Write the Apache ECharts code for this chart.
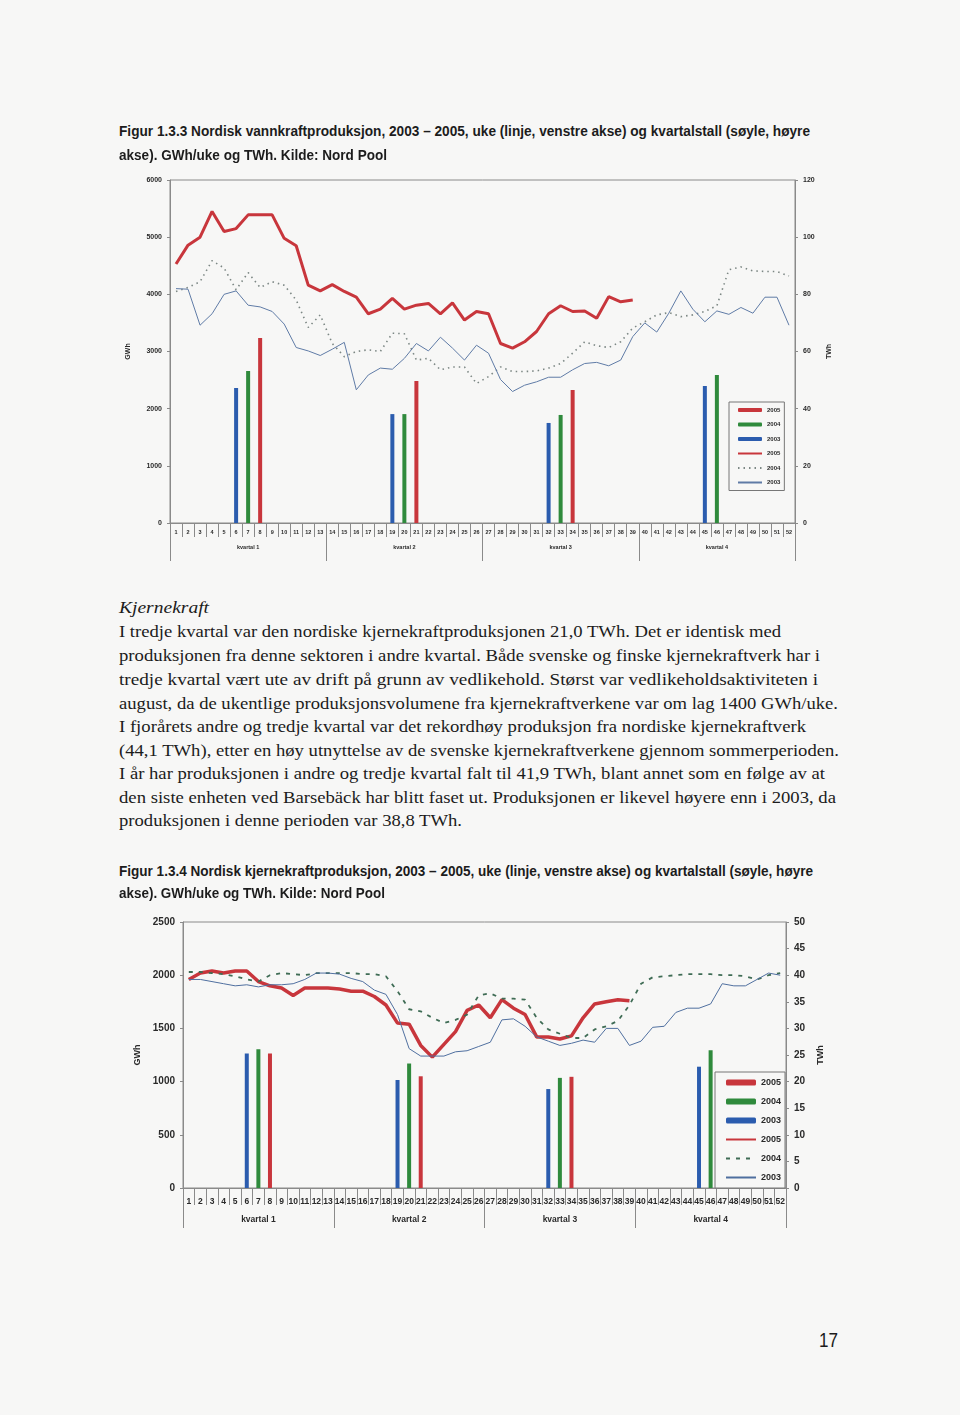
<!DOCTYPE html>
<html><head><meta charset="utf-8">
<script src="https://cdn.jsdelivr.net/npm/echarts@6/dist/echarts.min.js"></script>
<style>
html,body{margin:0;padding:0;background:#f7f7f6;}
#page{position:relative;width:960px;height:1415px;overflow:hidden;background:#f7f7f6;}
.t{position:absolute;white-space:nowrap;transform-origin:0 50%;color:#1c1c1c;}
.cap{font-family:"Liberation Sans",Arial,sans-serif;font-weight:bold;font-size:14px;line-height:18px;}
.body{font-family:"Liberation Serif","Times New Roman",serif;font-size:17.5px;line-height:22px;}
.it{font-style:italic;}
.pg{font-family:"Liberation Sans",Arial,sans-serif;font-size:20px;line-height:24px;}
#c1{position:absolute;left:0;top:160px;width:960px;height:430px;}
#c2{position:absolute;left:0;top:900px;width:960px;height:350px;}
</style></head>
<body><div id="page"><div id="c1"></div><div id="c2"></div></div>
<script>
// ---------- DATA ----------
const weekLabels = ["1","2","3","4","5","6","7","8","9","10","11","12","13","14","15","16","17","18","19","20","21","22","23","24","25","26","27","28","29","30","31","32","33","34","35","36","37","38","39","40","41","42","43","44","45","46","47","48","49","50","51","52"];
const quarterLabels = ["kvartal 1","kvartal 2","kvartal 3","kvartal 4"];

// Figur 1.3.3 – vannkraft, GWh/uke
const hydro2005 = [4530,4860,5000,5450,5100,5150,5390,5390,5390,4980,4850,4160,4060,4170,4050,3950,3660,3740,3930,3740,3810,3840,3660,3850,3550,3700,3660,3140,3060,3170,3350,3660,3800,3700,3710,3580,3960,3870,3900];
const hydro2004 = [4050,4120,4220,4590,4460,4080,4380,4120,4220,4160,3900,3420,3640,3140,2910,3000,3030,3000,3320,3310,2850,2880,2680,2730,2730,2440,2560,2730,2650,2650,2660,2710,2790,2970,3170,3100,3070,3170,3410,3520,3640,3680,3610,3640,3700,3800,4430,4480,4410,4400,4400,4320];
const hydro2003 = [4100,4090,3460,3660,4000,4060,3810,3780,3700,3480,3070,3010,2930,3040,3160,2330,2590,2710,2690,2880,3140,3010,3250,3060,2850,3110,2970,2510,2300,2410,2470,2550,2550,2680,2790,2810,2750,2850,3260,3500,3340,3670,4060,3740,3520,3710,3650,3770,3670,3950,3950,3460];
// kvartalstall, TWh  [uke, verdi]
const hydroQ2005 = [["8",64.7],["21",49.7],["34",46.5]];
const hydroQ2004 = [["7",53.2],["20",38.1],["33",37.8],["46",51.8]];
const hydroQ2003 = [["6",47.2],["19",38.1],["32",35.0],["45",47.9]];

// Figur 1.3.4 – kjernekraft, GWh/uke
const nuclear2005 = [1960,2020,2040,2020,2040,2040,1940,1900,1880,1810,1880,1880,1880,1870,1850,1850,1800,1720,1550,1540,1340,1230,1350,1470,1670,1720,1600,1770,1690,1630,1420,1420,1400,1430,1600,1730,1750,1770,1760];
const nuclear2004 = [2030,2030,2020,2010,1990,1960,1940,2000,2020,2010,2000,2020,2020,2020,2020,2010,2010,1990,1850,1680,1660,1600,1550,1580,1630,1810,1830,1780,1780,1770,1600,1490,1450,1410,1410,1490,1520,1570,1720,1920,1980,1990,2000,2010,2010,2010,2000,2000,1990,1960,2000,2020];
const nuclear2003 = [1960,1960,1940,1920,1900,1910,1890,1910,1910,1920,1960,2020,2020,2010,1970,1940,1860,1820,1630,1310,1240,1240,1240,1280,1290,1330,1370,1580,1590,1520,1420,1380,1340,1360,1390,1370,1500,1500,1340,1380,1510,1520,1650,1690,1690,1730,1920,1900,1900,1960,2020,2000];
const nuclearQ2005 = [["8",25.3],["21",21.0],["34",20.9]];
const nuclearQ2004 = [["7",26.1],["20",23.4],["33",20.7],["46",25.9]];
const nuclearQ2003 = [["6",25.3],["19",20.3],["32",18.6],["45",22.8]];

// ---------- TEXT ----------
const textLines = [
 {c:"cap", s:"Figur 1.3.3 Nordisk vannkraftproduksjon, 2003 \u2013 2005, uke (linje, venstre akse) og kvartalstall (s\u00f8yle, h\u00f8yre", x:119, y:131, w:691},
 {c:"cap", s:"akse). GWh/uke og TWh. Kilde: Nord Pool", x:119, y:155, w:268},
 {c:"body it", s:"Kjernekraft", x:119, y:607, w:90},
 {c:"body", s:"I tredje kvartal var den nordiske kjernekraftproduksjonen 21,0 TWh. Det er identisk med", x:119, y:631, w:662},
 {c:"body", s:"produksjonen fra denne sektoren i andre kvartal. B\u00e5de svenske og finske kjernekraftverk har i", x:119, y:655, w:701},
 {c:"body", s:"tredje kvartal v\u00e6rt ute av drift p\u00e5 grunn av vedlikehold. St\u00f8rst var vedlikeholdsaktiviteten i", x:119, y:679, w:699},
 {c:"body", s:"august, da de ukentlige produksjonsvolumene fra kjernekraftverkene var om lag 1400 GWh/uke.", x:119, y:703, w:719},
 {c:"body", s:"I fjor\u00e5rets andre og tredje kvartal var det rekordh\u00f8y produksjon fra nordiske kjernekraftverk", x:119, y:726, w:687},
 {c:"body", s:"(44,1 TWh), etter en h\u00f8y utnyttelse av de svenske kjernekraftverkene gjennom sommerperioden.", x:119, y:750, w:720},
 {c:"body", s:"I \u00e5r har produksjonen i andre og tredje kvartal falt til 41,9 TWh, blant annet som en f\u00f8lge av at", x:119, y:773, w:706},
 {c:"body", s:"den siste enheten ved Barseb\u00e4ck har blitt faset ut. Produksjonen er likevel h\u00f8yere enn i 2003, da", x:119, y:797, w:717},
 {c:"body", s:"produksjonen i denne perioden var 38,8 TWh.", x:119, y:820, w:343},
 {c:"cap", s:"Figur 1.3.4 Nordisk kjernekraftproduksjon, 2003 \u2013 2005, uke (linje, venstre akse) og kvartalstall (s\u00f8yle, h\u00f8yre", x:119, y:871, w:694},
 {c:"cap", s:"akse). GWh/uke og TWh. Kilde: Nord Pool", x:119, y:893, w:266},
 {c:"pg", s:"17", x:819, y:1340, w:19}
];
const page = document.getElementById('page');
const els = [];
textLines.forEach(L => {
  const d = document.createElement('div');
  d.className = 't ' + L.c;
  d.textContent = L.s;
  page.appendChild(d);
  const lh = parseFloat(getComputedStyle(d).lineHeight);
  d.style.left = L.x + 'px';
  d.style.top = (L.y - lh / 2) + 'px';
  els.push([d, L]);
});
function fit() {
  els.forEach(([d, L]) => {
    d.style.transform = 'none';
    const nat = d.getBoundingClientRect().width;
    if (nat > 0) d.style.transform = 'scaleX(' + (L.w / nat) + ')';
  });
}
fit();
window.addEventListener('load', fit);

// ---------- CHARTS ----------
const FONT = '"Liberation Sans", Arial, sans-serif';
const RED = '#c8363c', GREEN = '#2f8a3c', BLUE = '#2b5cae';
const NOSYM = {color: 'rgba(0,0,0,0)', borderColor: 'rgba(0,0,0,0)', borderWidth: 0};

function build(el, cfg) {
  const chart = echarts.init(el, null, {renderer: 'canvas'});
  const axisLine = {show: true, lineStyle: {color: '#8a8a8a', width: 1}};
  const lbl = (fs, m) => ({fontFamily: FONT, fontWeight: 'bold', fontSize: fs, color: '#2a2a2a', margin: m});
  const barS = (name, data, color) => ({
    name, type: 'bar', xAxisIndex: 0, yAxisIndex: 1, data, barWidth: cfg.barW, barGap: '-100%',
    itemStyle: {color}, silent: true, z: 2
  });
  const lineS = (name, data, color, width, type) => ({
    name, type: 'line', xAxisIndex: 0, yAxisIndex: 0, data, showSymbol: false, symbol: 'none',
    lineStyle: {color, width, type}, itemStyle: {color}, connectNulls: false, silent: true, z: 3
  });
  const plain = v => String(v);
  chart.setOption({
    animation: false,
    backgroundColor: 'transparent',
    grid: {left: cfg.gl, right: cfg.gr, top: cfg.gt, height: cfg.gh, show: true, borderColor: '#8a8a8a', borderWidth: 1, backgroundColor: 'transparent'},
    legend: {
      orient: 'vertical', left: cfg.lgL, top: cfg.lgT, padding: cfg.lgPad,
      itemWidth: cfg.lgIW, itemHeight: cfg.lgIH, itemGap: cfg.lgGap,
      borderColor: '#777', borderWidth: 1, backgroundColor: '#f7f7f6',
      textStyle: {fontFamily: FONT, fontWeight: 'bold', fontSize: cfg.lgFs, color: '#2a2a2a'},
      formatter: n => n.slice(-4),
      data: [
        {name: 's\u00f8yle 2005'}, {name: 's\u00f8yle 2004'}, {name: 's\u00f8yle 2003'},
        {name: 'linje 2005', itemStyle: NOSYM}, {name: 'linje 2004', itemStyle: NOSYM}, {name: 'linje 2003', itemStyle: NOSYM}
      ]
    },
    xAxis: [
      {type: 'category', data: weekLabels, boundaryGap: true, position: 'bottom',
       axisLine, axisTick: {show: true, interval: 0, length: cfg.wkTick, lineStyle: {color: '#8a8a8a'}},
       axisLabel: Object.assign(lbl(cfg.wkFs, cfg.wkM), {interval: 0, hideOverlap: false}),
       splitLine: {show: false}},
      {type: 'category', data: quarterLabels, boundaryGap: true, position: 'bottom',
       axisLine: {show: false}, axisTick: {show: true, interval: 0, length: cfg.qTick, lineStyle: {color: '#8a8a8a'}},
       axisLabel: Object.assign(lbl(cfg.qFs, cfg.qM), {interval: 0}), splitLine: {show: false}}
    ],
    yAxis: [
      {type: 'value', min: 0, max: cfg.lMax, interval: cfg.lInt, position: 'left',
       name: 'GWh', nameLocation: 'middle', nameRotate: 90, nameGap: cfg.nGapL,
       nameTextStyle: {fontFamily: FONT, fontWeight: 'bold', fontSize: cfg.nFs, color: '#2a2a2a'},
       axisLine, axisTick: {show: true, length: 3, lineStyle: {color: '#8a8a8a'}},
       axisLabel: Object.assign(lbl(cfg.yFs, cfg.yM), {formatter: plain}), splitLine: {show: false}},
      {type: 'value', min: 0, max: cfg.rMax, interval: cfg.rInt, position: 'right',
       name: 'TWh', nameLocation: 'middle', nameRotate: 90, nameGap: cfg.nGapR,
       nameTextStyle: {fontFamily: FONT, fontWeight: 'bold', fontSize: cfg.nFs, color: '#2a2a2a'},
       axisLine, axisTick: {show: true, length: 3, lineStyle: {color: '#8a8a8a'}},
       axisLabel: Object.assign(lbl(cfg.yFs, cfg.yM), {formatter: plain}), splitLine: {show: false}}
    ],
    series: [
      barS('s\u00f8yle 2005', cfg.q5, RED),
      barS('s\u00f8yle 2004', cfg.q4, GREEN),
      barS('s\u00f8yle 2003', cfg.q3, BLUE),
      lineS('linje 2005', cfg.l5, RED, cfg.redW, 'solid'),
      lineS('linje 2004', cfg.l4, cfg.dotC, cfg.dotW, cfg.dotT),
      lineS('linje 2003', cfg.l3, cfg.thinC, 1, 'solid')
    ]
  });
  return chart;
}

build(document.getElementById('c1'), {
  gl: 170, gr: 165, gt: 20, gh: 343, barW: 4,
  lMax: 6000, lInt: 1000, rMax: 120, rInt: 20,
  yFs: 7, yM: 8, nFs: 7, nGapL: 38, nGapR: 31,
  wkFs: 5.5, wkM: 6, wkTick: 14, qFs: 5.5, qM: 21, qTick: 38,
  lgL: 729, lgT: 242, lgPad: [5, 4, 5, 8], lgIW: 24, lgIH: 4, lgGap: 8.5, lgFs: 6,
  q5: hydroQ2005, q4: hydroQ2004, q3: hydroQ2003,
  l5: hydro2005, l4: hydro2004, l3: hydro2003,
  redW: 3, dotC: '#7c8784', dotW: 1.6, dotT: [1.5, 4], thinC: '#5f7ba6'
});

build(document.getElementById('c2'), {
  gl: 183, gr: 174, gt: 22, gh: 266, barW: 4,
  lMax: 2500, lInt: 500, rMax: 50, rInt: 5,
  yFs: 10, yM: 8, nFs: 9, nGapL: 40, nGapR: 30,
  wkFs: 8.5, wkM: 9, wkTick: 17, qFs: 8.5, qM: 27, qTick: 40,
  lgL: 715, lgT: 172, lgPad: [6, 4, 6, 10], lgIW: 30, lgIH: 6, lgGap: 10, lgFs: 9,
  q5: nuclearQ2005, q4: nuclearQ2004, q3: nuclearQ2003,
  l5: nuclear2005, l4: nuclear2004, l3: nuclear2003,
  redW: 3.5, dotC: '#3f6c55', dotW: 1.8, dotT: [4, 6], thinC: '#4f6f9f'
});
</script>
</body></html>
